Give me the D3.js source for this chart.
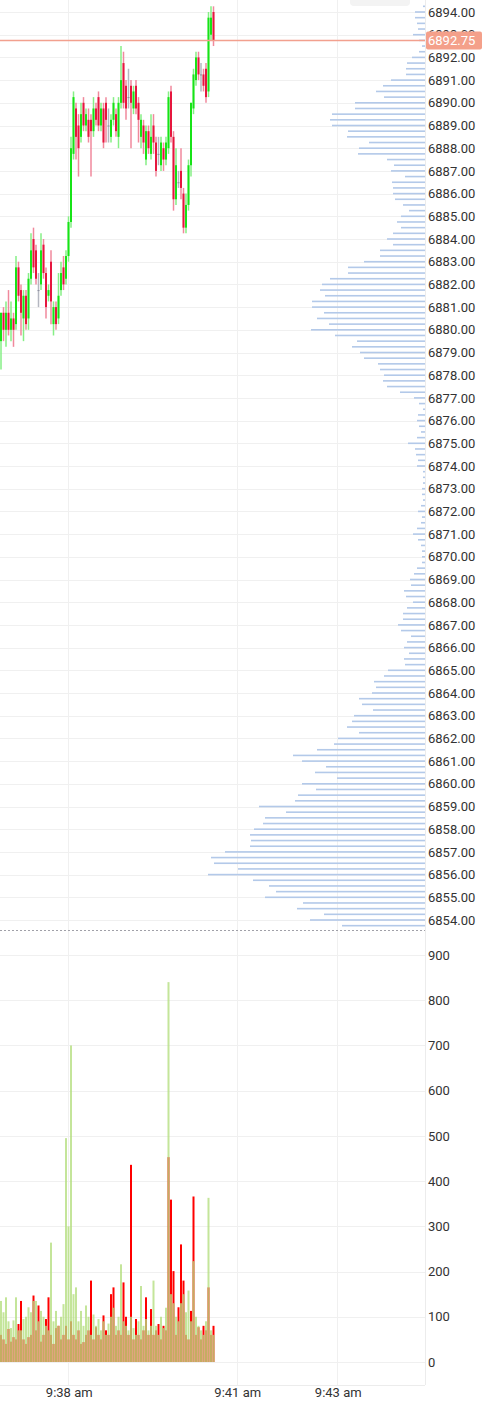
<!DOCTYPE html>
<html>
<head>
<meta charset="utf-8">
<script src="https://cdn.jsdelivr.net/npm/d3@7/dist/d3.min.js"></script>
<style>
  html, body { margin: 0; padding: 0; background: #fff; }
  svg { display: block; font-family: Roboto, "Noto Sans", sans-serif; }
</style>
</head>
<body>
<script>
// candles, one per bar index
var opens = [6879.5,6880.75,6880.0,6880.75,6880.0,6880.5,6880.25,6882.75,6881.75,6880.5,
  6881.5,6880.5,6882.25,6884.0,6883.5,6881.75,6882.0,6883.75,6882.5,6881.5,
  6883.0,6880.25,6881.0,6880.5,6881.75,6882.75,6882.25,6883.25,6884.75,6887.75,
  6889.75,6889.0,6888.5,6890.0,6889.0,6889.25,6889.25,6888.75,6889.75,6890.25,
  6889.0,6889.75,6890.0,6889.0,6888.5,6889.25,6889.5,6888.5,6890.0,6891.75,
  6890.75,6890.25,6890.75,6889.75,6890.75,6890.0,6888.5,6889.0,6887.5,6888.75,
  6887.75,6889.0,6888.25,6887.75,6887.25,6888.0,6887.5,6888.0,6890.5,6888.5,
  6885.75,6886.5,6887.0,6886.0,6884.5,6885.5,6887.25,6889.75,6891.0,6892.0,
  6891.25,6891.25,6891.5,6890.5,6893.0,6894.0];
var highs = [6880.75,6881.0,6881.25,6881.75,6881.25,6880.75,6883.25,6883.0,6882.0,6881.75,
  6881.75,6882.5,6884.25,6884.5,6883.75,6882.5,6884.25,6884.0,6882.75,6882.0,
  6883.5,6881.25,6881.25,6882.5,6883.0,6883.25,6883.5,6885.0,6888.5,6890.5,
  6890.0,6889.5,6890.0,6890.25,6889.75,6889.75,6889.5,6890.25,6890.0,6890.5,
  6890.0,6890.0,6890.25,6889.75,6889.5,6890.25,6889.75,6890.25,6892.5,6892.25,
  6891.0,6891.5,6891.0,6890.75,6891.0,6890.25,6889.5,6889.25,6889.0,6889.0,
  6889.5,6889.5,6888.5,6888.5,6888.5,6888.25,6888.5,6890.5,6890.75,6888.75,
  6888.0,6887.0,6888.0,6886.25,6886.0,6887.5,6890.0,6891.5,6892.25,6892.25,
  6891.75,6891.5,6891.75,6894.0,6894.25,6894.25];
var lows = [6878.25,6879.5,6879.25,6879.75,6879.5,6879.25,6880.0,6881.25,6879.75,6879.5,
  6880.0,6880.0,6882.0,6882.5,6882.0,6881.0,6881.75,6882.25,6880.5,6881.25,
  6880.25,6879.75,6880.0,6880.25,6881.5,6881.75,6882.0,6883.0,6884.5,6887.5,
  6887.5,6886.75,6888.25,6888.75,6888.75,6888.25,6886.75,6888.5,6889.0,6888.75,
  6888.75,6888.0,6888.25,6888.25,6888.25,6889.0,6888.5,6888.0,6889.75,6889.75,
  6889.25,6889.75,6888.0,6889.5,6889.5,6888.25,6888.0,6887.75,6887.25,6887.75,
  6887.5,6887.75,6886.75,6887.25,6887.0,6887.0,6887.25,6887.75,6888.25,6885.25,
  6885.5,6886.25,6885.75,6884.25,6884.25,6885.25,6886.75,6889.5,6890.75,6891.0,
  6890.5,6890.5,6890.0,6890.25,6892.75,6892.5];
var closes = [6880.75,6880.0,6880.75,6880.0,6880.5,6880.0,6882.75,6881.5,6880.75,6881.5,
  6880.25,6882.25,6883.5,6882.75,6882.25,6881.75,6883.5,6882.5,6881.0,6881.75,
  6881.25,6881.0,6880.25,6881.5,6882.5,6882.0,6883.25,6884.75,6888.0,6890.25,
  6888.5,6888.0,6889.5,6889.0,6889.5,6888.5,6888.75,6889.75,6889.25,6889.0,
  6889.75,6888.25,6889.25,6889.0,6889.25,6890.0,6888.75,6890.0,6891.0,6890.0,
  6889.75,6890.25,6890.0,6890.5,6889.75,6889.25,6889.25,6888.25,6888.75,6888.0,
  6888.5,6888.25,6887.0,6887.75,6888.25,6887.5,6888.25,6890.25,6888.5,6885.75,
  6887.25,6886.5,6886.25,6884.5,6885.5,6887.25,6890.0,6891.25,6892.0,6891.25,
  6891.25,6890.75,6890.25,6893.75,6893.75,6892.75];

// volume split per bar
var buyVolume = [135,110,143,90,75,92,143,70,70,95,100,121,110,135,135,90,113,100,80,70,
  264,90,113,80,100,128,495,300,700,150,165,90,113,80,125,100,60,105,80,95,
  70,90,60,85,100,120,80,100,216,90,80,70,100,75,60,90,168,80,95,70,
  80,180,80,60,100,75,120,840,150,130,100,90,130,150,110,158,90,223,100,80,
  70,60,90,363,70,60];
var sellVolume = [60,50,40,73,45,55,50,84,135,50,40,55,60,147,70,125,45,60,95,143,
  60,40,75,80,50,60,80,50,90,60,50,70,40,44,60,70,180,50,77,60,
  50,103,70,60,150,165,60,70,60,176,100,60,436,50,95,60,50,70,143,60,
  117,60,70,84,50,80,70,453,359,201,60,121,260,180,60,50,113,366,60,77,
  50,80,70,165,60,80];

// volume profile, from the top price level down in quarter points
var profileTop = 6894.25;
var profileStep = 0.25;
var profileVolume = [2,10,10,8,7,12,6,3,6,13,18,19,19,34,42,49,41,70,70,93,
  95,93,77,78,56,66,67,38,31,34,20,33,32,32,30,22,16,24,28,24,
  32,38,32,45,45,61,77,77,95,103,105,100,113,113,101,108,96,114,90,68,
  73,65,61,47,45,41,42,38,25,11,6,2,7,8,6,4,8,17,10,9,
  7,8,2,2,2,3,3,2,4,7,3,4,8,12,7,4,3,3,3,8,
  11,15,14,21,19,12,18,22,22,27,24,14,18,21,16,21,20,37,41,51,
  49,53,66,63,52,71,73,78,66,87,91,108,132,123,99,110,88,123,109,127,
  130,166,139,160,162,171,175,174,175,200,214,211,187,217,172,156,149,160,122,128,
  101,115,83];

var priceTicks = d3.range(6854, 6895, 1);
var volumeTicks = d3.range(0, 901, 100);
var timeTickIndex = [26.9, 94.3, 134.5];
var timeTickLabels = ["9:38 am", "9:41 am", "9:43 am"];
var lastPrice = 6892.75;

var W = 482, H = 1402;
var plotRight = 425, priceBottom = 930, volBottom = 1385;

var svg = d3.select("body").append("svg")
  .attr("width", W)
  .attr("height", H);

var x = d3.scaleLinear().domain([-0.4, 169.6]).range([0, plotRight]);
var y = d3.scaleLinear().domain([6854, 6894]).range([920, 12]);
var yVol = d3.scaleLinear().domain([0, 900]).range([1362, 955]);
var profLen = d3.scaleLinear().domain([0, 100]).range([0, 100]);

var grid = "#f0f0f0";

// horizontal grid, price pane
svg.append("g").selectAll("line").data(priceTicks).join("line")
  .attr("x1", 0).attr("x2", plotRight)
  .attr("y1", function(d) { return Math.round(y(d)) + 0.5; })
  .attr("y2", function(d) { return Math.round(y(d)) + 0.5; })
  .attr("stroke", grid);

// horizontal grid, volume pane
svg.append("g").selectAll("line").data(volumeTicks).join("line")
  .attr("x1", 0).attr("x2", plotRight)
  .attr("y1", function(d) { return Math.round(yVol(d)) + 0.5; })
  .attr("y2", function(d) { return Math.round(yVol(d)) + 0.5; })
  .attr("stroke", grid);

// vertical grid
svg.append("g").selectAll("line").data(timeTickIndex).join("line")
  .attr("x1", function(d) { return Math.round(x(d)) + 0.5; })
  .attr("x2", function(d) { return Math.round(x(d)) + 0.5; })
  .attr("y1", 0).attr("y2", volBottom)
  .attr("stroke", grid);

// panel borders
svg.append("line").attr("x1", plotRight + 0.5).attr("x2", plotRight + 0.5)
  .attr("y1", 0).attr("y2", volBottom).attr("stroke", "#ececec");
svg.append("line").attr("x1", 0).attr("x2", plotRight)
  .attr("y1", volBottom + 0.5).attr("y2", volBottom + 0.5).attr("stroke", "#ececec");

// faint button at the top
svg.append("rect").attr("x", 350).attr("y", -6).attr("width", 60).attr("height", 12)
  .attr("rx", 4).attr("fill", "#f3f3f3");

// volume profile
svg.append("g").selectAll("rect").data(profileVolume).join("rect")
  .attr("x", function(d) { return plotRight - profLen(d); })
  .attr("y", function(d, i) { return y(profileTop - i * profileStep) - 0.8; })
  .attr("width", function(d) { return profLen(d); })
  .attr("height", 1.6)
  .attr("fill", "#b3c9e9");

// candles
var candles = opens.map(function(o, i) {
  return { i: i, o: o, h: highs[i], l: lows[i], c: closes[i] };
});
function bodyColor(d) { return d.c > d.o ? "#17e317" : d.c < d.o ? "#e6163e" : "#8c909e"; }
function wickColor(d) { return d.c > d.o ? "#86ef86" : d.c < d.o ? "#f0899c" : "#b4b7c0"; }

var cg = svg.append("g");
cg.selectAll("line").data(candles).join("line")
  .attr("x1", function(d) { return x(d.i); })
  .attr("x2", function(d) { return x(d.i); })
  .attr("y1", function(d) { return y(d.h); })
  .attr("y2", function(d) { return y(d.l); })
  .attr("stroke", wickColor)
  .attr("stroke-width", 1.5);
cg.selectAll("rect").data(candles).join("rect")
  .attr("x", function(d) { return x(d.i) - 1; })
  .attr("y", function(d) { return y(Math.max(d.o, d.c)); })
  .attr("width", 2)
  .attr("height", function(d) { return Math.max(1, Math.abs(y(d.o) - y(d.c))); })
  .attr("fill", bodyColor);

// volume bars
var vg = svg.append("g");
vg.selectAll("rect.sell").data(sellVolume).join("rect")
  .attr("class", "sell")
  .attr("x", function(d, i) { return x(i) - 1; })
  .attr("y", function(d) { return yVol(d); })
  .attr("width", 2)
  .attr("height", function(d) { return yVol(0) - yVol(d); })
  .attr("fill", "#ff0000");
vg.selectAll("rect.buy").data(buyVolume).join("rect")
  .attr("class", "buy")
  .attr("x", function(d, i) { return x(i) - 1; })
  .attr("y", function(d) { return yVol(d); })
  .attr("width", 2)
  .attr("height", function(d) { return yVol(0) - yVol(d); })
  .attr("fill", "#b4de7d")
  .attr("fill-opacity", 0.78);

// pane separator
svg.append("line").attr("x1", 0).attr("x2", plotRight)
  .attr("y1", priceBottom + 0.5).attr("y2", priceBottom + 0.5)
  .attr("stroke", "#a0a0a8").attr("stroke-dasharray", "2,2");

// price axis labels
svg.append("g").selectAll("text").data(priceTicks).join("text")
  .attr("x", 428)
  .attr("y", function(d) { return y(d); })
  .attr("dy", "0.36em")
  .attr("font-size", 13)
  .attr("fill", "#333")
  .text(function(d) { return d3.format(".2f")(d); });

// volume axis labels
svg.append("g").selectAll("text").data(volumeTicks).join("text")
  .attr("x", 428)
  .attr("y", function(d) { return yVol(d); })
  .attr("dy", "0.36em")
  .attr("font-size", 13)
  .attr("fill", "#333")
  .text(function(d) { return d; });

// time axis labels
svg.append("g").selectAll("text").data(timeTickIndex).join("text")
  .attr("x", function(d) { return x(d) + 1; })
  .attr("y", 1392)
  .attr("dy", "0.36em")
  .attr("text-anchor", "middle")
  .attr("font-size", 13)
  .attr("fill", "#333")
  .text(function(d, i) { return timeTickLabels[i]; });

// last price line and tag (covers the 6893.00 label, as in the original)
var ly = y(lastPrice);
svg.append("line").attr("x1", 0).attr("x2", plotRight)
  .attr("y1", ly).attr("y2", ly)
  .attr("stroke", "#f2a08e").attr("stroke-width", 1.5);
svg.append("rect").attr("x", plotRight + 1).attr("y", ly - 9)
  .attr("width", W - plotRight - 1).attr("height", 18)
  .attr("rx", 2).attr("fill", "#f4a08a");
svg.append("text").attr("x", 428).attr("y", ly).attr("dy", "0.36em")
  .attr("font-size", 13).attr("fill", "#fff")
  .text(d3.format(".2f")(lastPrice));
</script>
</body>
</html>
